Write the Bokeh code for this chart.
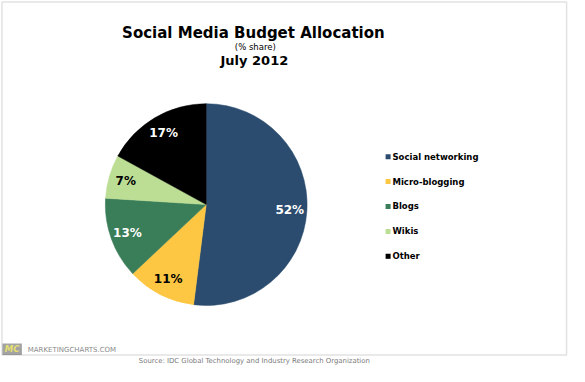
import math
from bokeh.plotting import figure
from bokeh.models import Range1d, Label, ColumnDataSource, BoxAnnotation
from bokeh.core.properties import value
from bokeh.embed import file_html
from bokeh.resources import INLINE

# ---- data ----
categories = ["Social networking", "Micro-blogging", "Blogs", "Wikis", "Other"]
shares = [52, 11, 13, 7, 17]
colors = ["#2B4C6F", "#FDC743", "#3A7D59", "#BCDE94", "#000000"]
label_colors = ["#FFFFFF", "#000000", "#FFFFFF", "#000000", "#FFFFFF"]
title = "Social Media Budget Allocation"
subtitle = "(% share)"
period = "July 2012"
source_text = "Source: IDC Global Technology and Industry Research Organization"
brand = "MARKETINGCHARTS.COM"

# ---- layout (pixel space, y up) ----
W, H = 569, 366
SX, SY = W / 585.0, H / 382.0
def X(rx):
    return rx * SX
def Y(ry):
    return H - ry * SY

FONT = "DejaVu Sans"

p = figure(width=W, height=H, output_backend="svg", toolbar_location=None,
           x_range=Range1d(0, W), y_range=Range1d(0, H), min_border=0,
           x_axis_location=None, y_axis_location=None)
p.grid.visible = False
p.outline_line_color = None
p.background_fill_color = "white"
p.border_fill_color = "white"

# pie
cx, cy, R = X(211.5), Y(213), 104.5 * (SX + SY) / 2
total = float(sum(shares))
starts, ends, lx, ly, labels = [], [], [], [], []
c = 0.0
for s in shares:
    a0 = math.pi / 2 - 2 * math.pi * c / total
    a1 = math.pi / 2 - 2 * math.pi * (c + s) / total
    starts.append(a0)
    ends.append(a1)
    mid = (a0 + a1) / 2
    lx.append(cx + 0.83 * R * math.cos(mid))
    ly.append(cy + 0.83 * R * math.sin(mid))
    labels.append(f"{s}%")
    c += s

src = ColumnDataSource(dict(start=starts, end=ends, color=colors, lx=lx, ly=ly,
                            label=labels, lcolor=label_colors, cat=categories))
p.wedge(x=cx, y=cy, radius=R, start_angle="start", end_angle="end",
        direction="clock", fill_color="color", line_color="color",
        line_width=0.5, source=src)
p.text(x="lx", y="ly", text="label", text_color="lcolor", source=src,
       text_align="center", text_baseline="middle", text_font=value(FONT),
       text_font_style="bold", text_font_size="12px")

# legend
leg_y = [Y(163 + 26 * i) for i in range(len(categories))]
leg = ColumnDataSource(dict(x=[X(398.5)] * len(categories), y=leg_y,
                            tx=[X(403)] * len(categories), color=colors,
                            cat=categories))
p.scatter(x="x", y="y", marker="square", size=5, fill_color="color",
          line_color=None, source=leg)
p.text(x="tx", y="y", text="cat", source=leg, text_align="left",
       text_baseline="middle", text_font=value(FONT), text_font_style="bold",
       text_font_size="8.5px", text_color="black")

# titles
p.add_layout(Label(x=X(260), y=Y(34), text=title, text_align="center",
                   text_baseline="middle", text_font=FONT, text_font_style="bold",
                   text_font_size="15px", text_color="black"))
p.add_layout(Label(x=X(262), y=Y(49), text=subtitle, text_align="center",
                   text_baseline="middle", text_font=FONT,
                   text_font_size="8.5px", text_color="black"))
p.add_layout(Label(x=X(261), y=Y(63), text=period, text_align="center",
                   text_baseline="middle", text_font=FONT, text_font_style="bold",
                   text_font_size="13px", text_color="black"))

# frame
p.add_layout(BoxAnnotation(left=X(1.5), right=X(582), top=Y(1.5), bottom=Y(370),
                           fill_color=None, line_color="#A0A0A0", line_width=1.5))

# footer
p.add_layout(BoxAnnotation(left=X(2), right=X(22), top=Y(358), bottom=Y(370),
                           fill_color="#1A1A1A", line_color=None))
p.add_layout(Label(x=X(12), y=Y(364), text="MC", text_align="center",
                   text_baseline="middle", text_font=FONT, text_font_style="bold italic",
                   text_font_size="8.5px", text_color="#E6E070"))
p.add_layout(Label(x=X(28), y=Y(364.5), text=brand, text_align="left",
                   text_baseline="middle", text_font=FONT,
                   text_font_size="7px", text_color="#8A8A8A"))
p.add_layout(Label(x=X(261), y=Y(376.5), text=source_text, text_align="center",
                   text_baseline="middle", text_font=FONT,
                   text_font_size="6.9px", text_color="#7A7A7A"))

open("out.html", "w").write(file_html(p, INLINE))
